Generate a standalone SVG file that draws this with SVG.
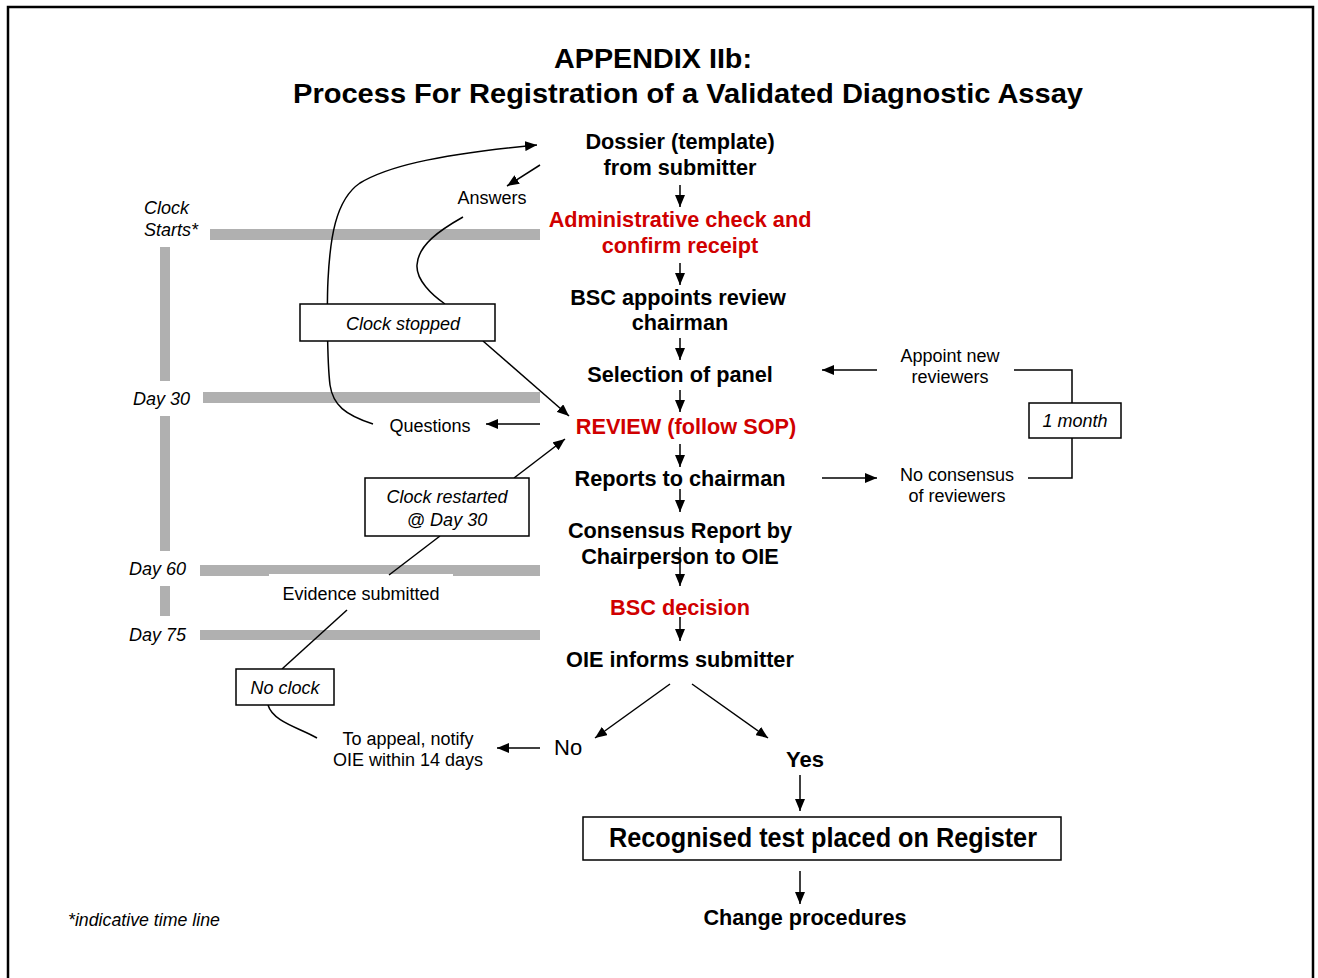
<svg xmlns="http://www.w3.org/2000/svg" width="1318" height="978" viewBox="0 0 1318 978">
<defs>
<marker id="ah" viewBox="0 0 12 10" refX="12" refY="5" markerWidth="12" markerHeight="10" markerUnits="userSpaceOnUse" orient="auto">
<path d="M0,0 L12,5 L0,10 z" fill="#000"/>
</marker>
<style>
.t{font-family:"Liberation Sans",Arial,sans-serif;fill:#000}
.b{font-weight:bold;font-size:21.7px;text-anchor:middle}
.r{fill:#d00000}
.s{font-size:18px;text-anchor:middle}
.i{font-style:italic}
.n{font-weight:bold}
.bar{fill:#b0b0b0}
.ln{stroke:#000;stroke-width:1.5;fill:none}
.ar{stroke:#000;stroke-width:1.5;fill:none;marker-end:url(#ah)}
.box{fill:#fff;stroke:#000;stroke-width:1.5}
</style>
</defs>
<rect x="0" y="0" width="1318" height="978" fill="#fff"/>
<path d="M8,985 V7 H1313 V985" fill="none" stroke="#000" stroke-width="2.5"/>

<g id="title">
<text class="t n" x="653" y="68" font-size="27" text-anchor="middle" textLength="198" lengthAdjust="spacingAndGlyphs">APPENDIX IIb:</text>
<text class="t n" x="688" y="103" font-size="27" text-anchor="middle" textLength="790" lengthAdjust="spacingAndGlyphs">Process For Registration of a Validated Diagnostic Assay</text>
</g>

<g id="timeline">
<rect class="bar" x="210" y="229" width="330" height="11"/>
<rect class="bar" x="203" y="392" width="337" height="11"/>
<rect class="bar" x="200" y="565" width="340" height="11"/>
<rect x="269" y="574" width="184" height="4" fill="#fff"/>
<rect class="bar" x="200" y="630" width="340" height="10"/>
<rect class="bar" x="160" y="247" width="10" height="134"/>
<rect class="bar" x="160" y="416" width="10" height="135"/>
<rect class="bar" x="160" y="586" width="10" height="30"/>
<text class="t i" x="144" y="214" font-size="18">Clock</text>
<text class="t i" x="144" y="236" font-size="18">Starts*</text>
<text class="t i" x="133" y="405" font-size="18">Day 30</text>
<text class="t i" x="129" y="575" font-size="18">Day 60</text>
<text class="t i" x="129" y="641" font-size="18">Day 75</text>
<text class="t i" x="68" y="926" font-size="17.5" textLength="152" lengthAdjust="spacingAndGlyphs">*indicative time line</text>
</g>

<g id="connectors">
<line class="ar" x1="680" y1="185" x2="680" y2="207"/>
<line class="ar" x1="680" y1="263" x2="680" y2="285"/>
<line class="ar" x1="680" y1="338" x2="680" y2="360"/>
<line class="ar" x1="680" y1="390" x2="680" y2="412"/>
<line class="ar" x1="680" y1="444" x2="680" y2="467"/>
<line class="ar" x1="680" y1="489" x2="680" y2="512"/>
<line class="ar" x1="680" y1="547" x2="680" y2="586"/>
<line class="ar" x1="680" y1="617" x2="680" y2="641"/>
<path class="ar" d="M373,424 C345,415 333,405 330,385 C327,360 327,300 328,280 C330,240 335,200 360,183 C385,168 430,155 537,145"/>
<line class="ar" x1="540" y1="165" x2="507" y2="186"/>
<path class="ln" d="M463,217 C440,230 418,245 417,265 C416,280 432,295 445,304"/>
<line class="ar" x1="483" y1="341" x2="569" y2="416"/>
<line class="ar" x1="540" y1="424" x2="486" y2="424"/>
<line class="ar" x1="514" y1="478" x2="565" y2="439"/>
<line class="ln" x1="440" y1="536" x2="389" y2="575"/>
<line class="ln" x1="347" y1="610" x2="282" y2="669"/>
<path class="ln" d="M268,705 C273,722 300,728 317,738"/>
<line class="ar" x1="540" y1="748" x2="497" y2="748"/>
<line class="ar" x1="670" y1="684" x2="595" y2="738"/>
<line class="ar" x1="692" y1="684" x2="768" y2="738"/>
<line class="ar" x1="800" y1="775" x2="800" y2="811"/>
<line class="ar" x1="800" y1="871" x2="800" y2="904"/>
<line class="ar" x1="877" y1="370" x2="822" y2="370"/>
<path class="ln" d="M1014,370 H1072 V403"/>
<path class="ln" d="M1072,438 V478 H1028"/>
<line class="ar" x1="822" y1="478" x2="877" y2="478"/>
</g>

<g id="n-dossier"><text class="t b" x="680" y="149">Dossier (template)</text><text class="t b" x="680" y="175">from submitter</text></g>
<g id="n-admin"><text class="t b r" x="680" y="227">Administrative check and</text><text class="t b r" x="680" y="253">confirm receipt</text></g>
<g id="n-bsc"><text class="t b" x="678" y="305">BSC appoints review</text><text class="t b" x="680" y="330">chairman</text></g>
<g id="n-panel"><text class="t b" x="680" y="382">Selection of panel</text></g>
<g id="n-review"><text class="t b r" x="686" y="434">REVIEW (follow SOP)</text></g>
<g id="n-reports"><text class="t b" x="680" y="486">Reports to chairman</text></g>
<g id="n-consensus"><text class="t b" x="680" y="538">Consensus Report by</text><text class="t b" x="680" y="564">Chairperson to OIE</text></g>
<g id="n-decision"><text class="t b r" x="680" y="615">BSC decision</text></g>
<g id="n-informs"><text class="t b" x="680" y="667">OIE informs submitter</text></g>

<g id="n-answers"><text class="t s" x="492" y="204">Answers</text></g>
<g id="n-questions"><text class="t s" x="430" y="432">Questions</text></g>
<g id="n-clockstopped"><rect class="box" x="300" y="304" width="195" height="37"/><text class="t s i" x="403" y="330">Clock stopped</text></g>
<g id="n-clockrestarted"><rect class="box" x="365" y="478" width="164" height="58"/><text class="t s i" x="447" y="503">Clock restarted</text><text class="t s i" x="447" y="526">@ Day 30</text></g>
<g id="n-evidence"><text class="t s" x="361" y="600">Evidence submitted</text></g>
<g id="n-noclock"><rect class="box" x="236" y="669" width="98" height="36"/><text class="t s i" x="285" y="694">No clock</text></g>
<g id="n-appeal"><text class="t s" x="408" y="745">To appeal, notify</text><text class="t s" x="408" y="766">OIE within 14 days</text></g>
<g id="n-no"><text class="t" x="554" y="755" font-size="22">No</text></g>
<g id="n-yes"><text class="t n" x="805" y="767" font-size="22" text-anchor="middle" textLength="38" lengthAdjust="spacingAndGlyphs">Yes</text></g>
<g id="n-register"><rect class="box" x="583" y="817" width="478" height="43"/><text class="t n" x="823" y="847" font-size="27" text-anchor="middle" textLength="428" lengthAdjust="spacingAndGlyphs">Recognised test placed on Register</text></g>
<g id="n-change"><text class="t n" x="805" y="925" font-size="22" text-anchor="middle" textLength="203" lengthAdjust="spacingAndGlyphs">Change procedures</text></g>
<g id="n-appoint"><text class="t s" x="950" y="362">Appoint new</text><text class="t s" x="950" y="383">reviewers</text></g>
<g id="n-month"><rect class="box" x="1029" y="403" width="92" height="35"/><text class="t s i" x="1075" y="427">1 month</text></g>
<g id="n-noconsensus"><text class="t s" x="957" y="481">No consensus</text><text class="t s" x="957" y="502">of reviewers</text></g>
</svg>
